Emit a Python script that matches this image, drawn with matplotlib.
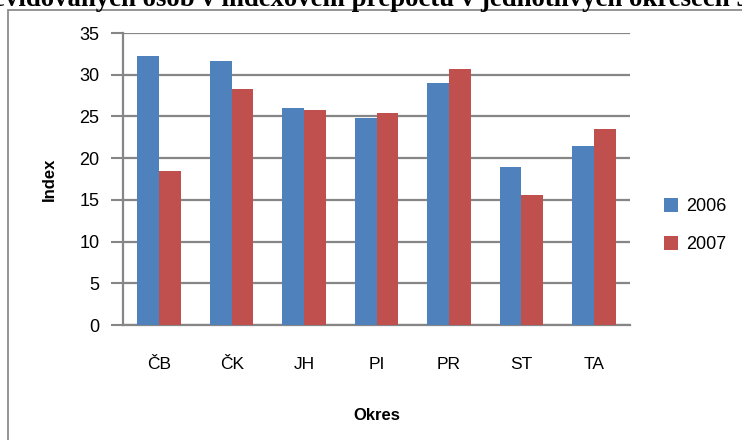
import numpy as np
import matplotlib
matplotlib.use("Agg")
import matplotlib.pyplot as plt
from matplotlib.patches import Rectangle

plt.rcParams['font.family'] = ['Liberation Sans', 'DejaVu Sans']

# data
okresy = ['ČB', 'ČK', 'JH', 'PI', 'PR', 'ST', 'TA']
idx_2006 = [32.3, 31.6, 26.0, 24.8, 29.05, 18.9, 21.5]
idx_2007 = [18.5, 28.3, 25.8, 25.4, 30.7, 15.55, 23.5]
title_pre = "Počet evidovaných "
title_mid = "osob v indexovém přepočtu v jednotlivých okresech"
title_post = " JčK"

W, H = 742, 440
fig = plt.figure(figsize=(W / 100, H / 100), dpi=100)
fig.patch.set_facecolor('white')

# chart area border (runs off the right and bottom edge)
fig.add_artist(Rectangle((8 / W, -0.2), 1.2, (H - 10) / H + 0.2,
                         transform=fig.transFigure, fill=False,
                         edgecolor='#8c8c8c', lw=1.3))

# title, mostly cut off at the top; size it so the middle part spans ~143..730 px
fig.canvas.draw()
r = fig.canvas.get_renderer()
def tw(s, fs):
    tt = fig.text(0, 0, s, fontsize=fs, fontweight='bold', family='Liberation Serif')
    wd = tt.get_window_extent(r).width
    tt.remove()
    return wd
tfs = 20 * 587 / tw(title_mid, 20)
pw = tw(title_pre, tfs)
fig.text((143 - pw) / W, (H - 6) / H, title_pre + title_mid + title_post,
         fontsize=tfs, fontweight='bold', family='Liberation Serif', va='baseline')

ax = fig.add_axes([123 / W, 115 / H, (630 - 123) / W, 292 / H])
x = np.arange(len(okresy))
w = 0.3
ax.bar(x - w / 2, idx_2006, w, color='#4F81BD', label='2006', zorder=3)
ax.bar(x + w / 2, idx_2007, w, color='#C0504D', label='2007', zorder=3)

ax.set_xlim(-0.5, len(okresy) - 0.5)
ax.set_ylim(0, 35)
ax.set_yticks(range(0, 36, 5))
ax.set_xticks(x)
ax.set_xticklabels(okresy, fontsize=12.5)
ax.tick_params(axis='x', length=0, pad=23)
ax.tick_params(axis='y', length=9, width=1.5, color='#868686', labelsize=13, pad=8)
ax.yaxis.grid(True, color='#868686', lw=1.6, zorder=0)
for s in ['top', 'right']:
    ax.spines[s].set_visible(False)
for s in ['left', 'bottom']:
    ax.spines[s].set_color('#868686')
    ax.spines[s].set_linewidth(1.6)

ax.set_ylabel('Index', fontsize=12, fontweight='bold', labelpad=16)
ax.set_xlabel('Okres', fontsize=12, fontweight='bold', labelpad=26)

ax.legend(loc='center left', bbox_to_anchor=(1.035, 0.34), frameon=False,
          fontsize=13, handlelength=0.8, handleheight=0.8, labelspacing=1.15,
          handletextpad=0.4)

fig.savefig('out.png', dpi=100)
